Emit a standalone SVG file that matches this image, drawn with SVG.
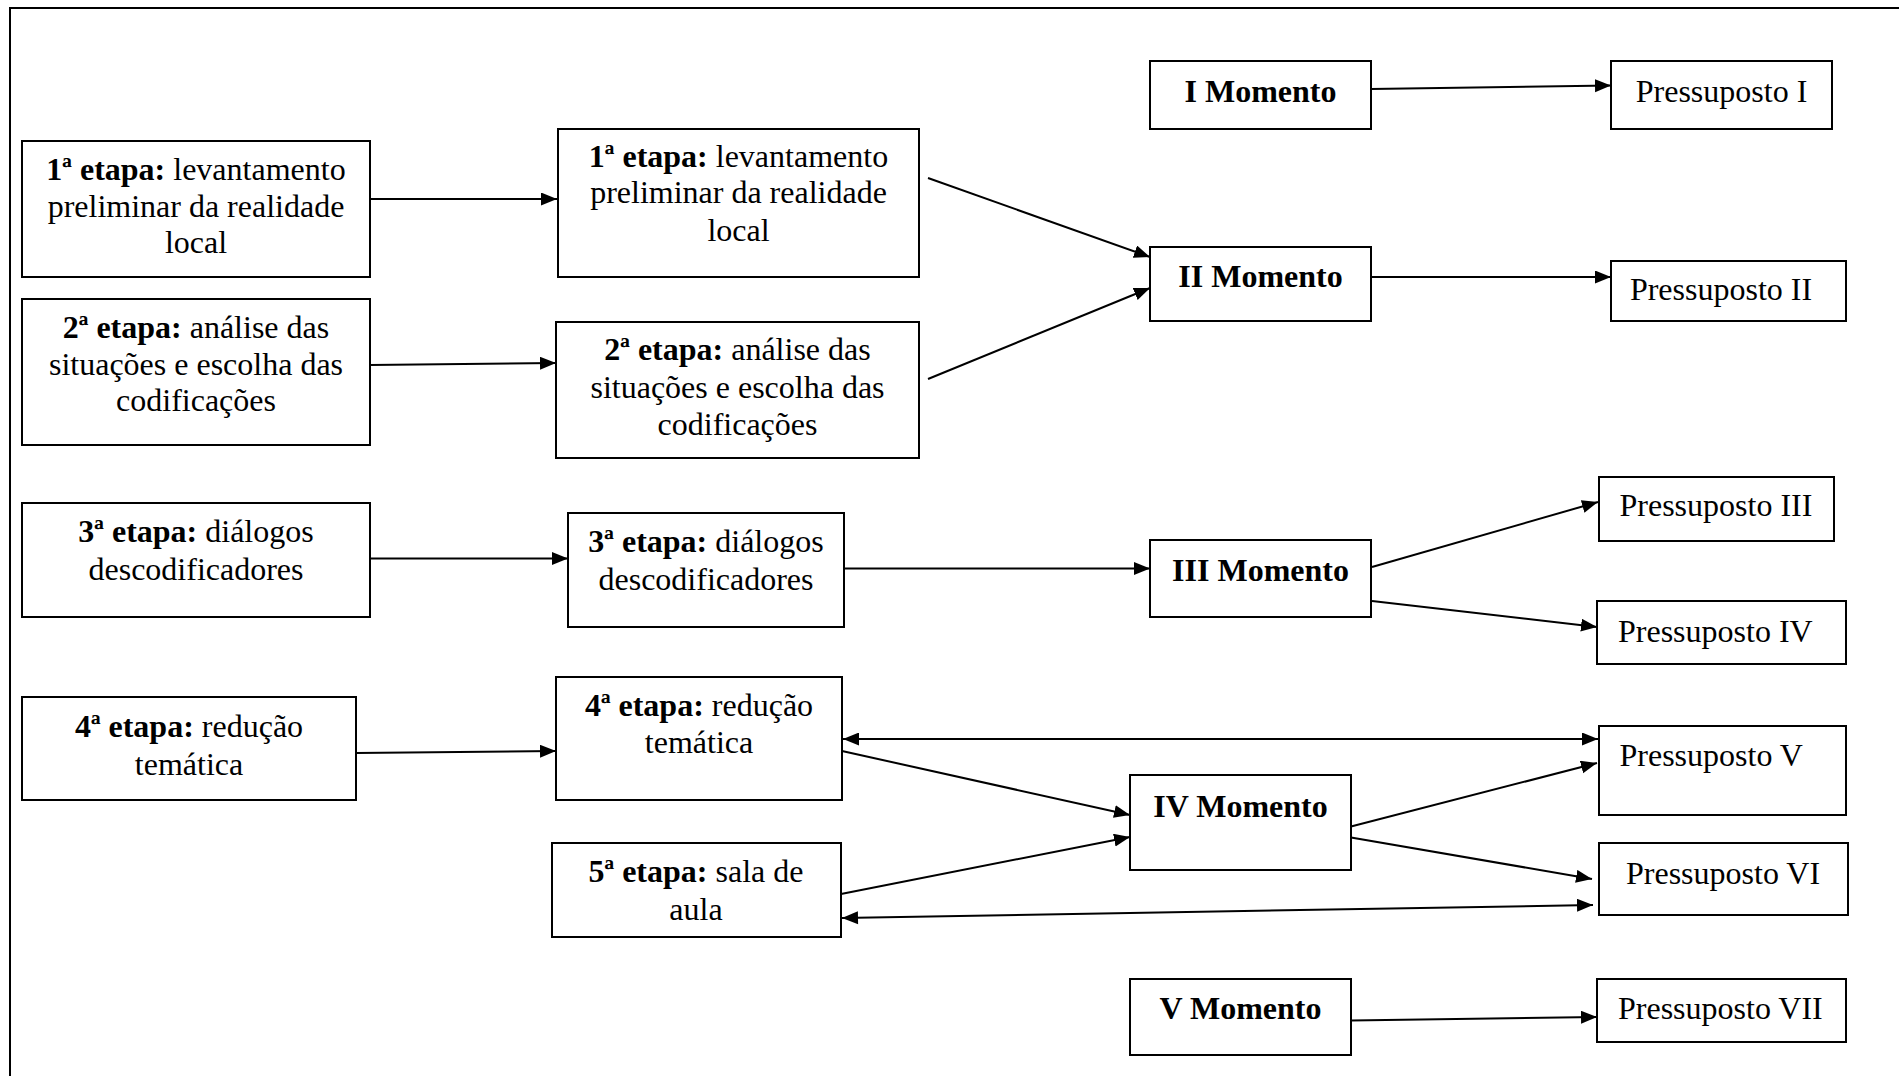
<svg xmlns="http://www.w3.org/2000/svg" width="1899" height="1076" viewBox="0 0 1899 1076">
<style>
  .box { fill: #fff; stroke: #000; stroke-width: 2; }
  text { font-family: "Liberation Serif", "Times New Roman", serif; font-size: 32px; fill: #000; text-anchor: middle; }
  .ls { text-anchor: start; }
  .b { font-weight: bold; }
  .c { fill: none; stroke: #000; stroke-width: 2; }
</style>
<defs>
  <marker id="ah" markerUnits="userSpaceOnUse" markerWidth="17" markerHeight="14" refX="16" refY="6.5" orient="auto">
    <path d="M0,0 L16,6.5 L0,13 z" fill="#000"/>
  </marker>
  <marker id="as" markerUnits="userSpaceOnUse" markerWidth="17" markerHeight="14" refX="0" refY="6.5" orient="auto">
    <path d="M16,0 L0,6.5 L16,13 z" fill="#000"/>
  </marker>
</defs>
<rect x="10" y="8" width="1920" height="1100" fill="#fff" stroke="#000" stroke-width="2"/>

<g id="connectors">
  <line class="c" x1="370" y1="199" x2="557" y2="199" marker-end="url(#ah)"/>
  <line class="c" x1="370" y1="365" x2="556" y2="363" marker-end="url(#ah)"/>
  <line class="c" x1="370" y1="558.5" x2="568" y2="558.5" marker-end="url(#ah)"/>
  <line class="c" x1="356" y1="753" x2="556" y2="751" marker-end="url(#ah)"/>
  <line class="c" x1="928" y1="178" x2="1150" y2="257" marker-end="url(#ah)"/>
  <line class="c" x1="928" y1="379" x2="1150" y2="288" marker-end="url(#ah)"/>
  <line class="c" x1="844" y1="568.5" x2="1150" y2="568.5" marker-end="url(#ah)"/>
  <line class="c" x1="842" y1="751" x2="1130" y2="815" marker-end="url(#ah)"/>
  <line class="c" x1="841" y1="894" x2="1130" y2="837" marker-end="url(#ah)"/>
  <line class="c" x1="843" y1="739" x2="1598" y2="739" marker-start="url(#as)" marker-end="url(#ah)"/>
  <line class="c" x1="842" y1="918" x2="1593" y2="905" marker-start="url(#as)" marker-end="url(#ah)"/>
  <line class="c" x1="1371" y1="89" x2="1611" y2="85.5" marker-end="url(#ah)"/>
  <line class="c" x1="1371" y1="277" x2="1611" y2="277" marker-end="url(#ah)"/>
  <line class="c" x1="1372" y1="567" x2="1598" y2="502" marker-end="url(#ah)"/>
  <line class="c" x1="1372" y1="601" x2="1597" y2="627" marker-end="url(#ah)"/>
  <line class="c" x1="1351" y1="826.5" x2="1597" y2="763" marker-end="url(#ah)"/>
  <line class="c" x1="1351" y1="837.5" x2="1592" y2="879" marker-end="url(#ah)"/>
  <line class="c" x1="1351" y1="1020.5" x2="1597" y2="1017" marker-end="url(#ah)"/>
</g>

<g id="a1">
  <rect class="box" x="22" y="141" width="348" height="136"/>
  <text x="196" y="180"><tspan class="b">1ª etapa:</tspan> levantamento</text>
  <text x="196" y="216.5">preliminar da realidade</text>
  <text x="196" y="253">local</text>
</g>
<g id="a2">
  <rect class="box" x="22" y="299" width="348" height="146"/>
  <text x="196" y="337.5"><tspan class="b">2ª etapa:</tspan> análise das</text>
  <text x="196" y="375">situações e escolha das</text>
  <text x="196" y="411">codificações</text>
</g>
<g id="a3">
  <rect class="box" x="22" y="503" width="348" height="114"/>
  <text x="196" y="541.5"><tspan class="b">3ª etapa:</tspan> diálogos</text>
  <text x="196" y="579.5">descodificadores</text>
</g>
<g id="a4">
  <rect class="box" x="22" y="697" width="334" height="103"/>
  <text x="189" y="736.5"><tspan class="b">4ª etapa:</tspan> redução</text>
  <text x="189" y="774.5">temática</text>
</g>

<g id="b1">
  <rect class="box" x="558" y="129" width="361" height="148"/>
  <text x="738.5" y="166.5"><tspan class="b">1ª etapa:</tspan> levantamento</text>
  <text x="738.5" y="203">preliminar da realidade</text>
  <text x="738.5" y="240.5">local</text>
</g>
<g id="b2">
  <rect class="box" x="556" y="322" width="363" height="136"/>
  <text x="737.5" y="360"><tspan class="b">2ª etapa:</tspan> análise das</text>
  <text x="737.5" y="397.5">situações e escolha das</text>
  <text x="737.5" y="435">codificações</text>
</g>
<g id="b3">
  <rect class="box" x="568" y="513" width="276" height="114"/>
  <text x="706" y="552"><tspan class="b">3ª etapa:</tspan> diálogos</text>
  <text x="706" y="590">descodificadores</text>
</g>
<g id="b4">
  <rect class="box" x="556" y="677" width="286" height="123"/>
  <text x="699" y="715.5"><tspan class="b">4ª etapa:</tspan> redução</text>
  <text x="699" y="753">temática</text>
</g>
<g id="b5">
  <rect class="box" x="552" y="843" width="289" height="94"/>
  <text x="696" y="882"><tspan class="b">5ª etapa:</tspan> sala de</text>
  <text x="696" y="920">aula</text>
</g>

<g id="m1">
  <rect class="box" x="1150" y="61" width="221" height="68"/>
  <text class="b" x="1260.5" y="101.5">I Momento</text>
</g>
<g id="m2">
  <rect class="box" x="1150" y="247" width="221" height="74"/>
  <text class="b" x="1260.5" y="286.5">II Momento</text>
</g>
<g id="m3">
  <rect class="box" x="1150" y="540" width="221" height="77"/>
  <text class="b" x="1260.5" y="580.5">III Momento</text>
</g>
<g id="m4">
  <rect class="box" x="1130" y="775" width="221" height="95"/>
  <text class="b" x="1240.5" y="816.5">IV Momento</text>
</g>
<g id="m5">
  <rect class="box" x="1130" y="979" width="221" height="76"/>
  <text class="b" x="1240.5" y="1019">V Momento</text>
</g>

<g id="p1">
  <rect class="box" x="1611" y="61" width="221" height="68"/>
  <text x="1721.5" y="101.5">Pressuposto I</text>
</g>
<g id="p2">
  <rect class="box" x="1611" y="261" width="235" height="60"/>
  <text x="1721" y="300">Pressuposto II</text>
</g>
<g id="p3">
  <rect class="box" x="1599" y="477" width="235" height="64"/>
  <text class="ls" x="1619.5" y="516">Pressuposto III</text>
</g>
<g id="p4">
  <rect class="box" x="1597" y="601" width="249" height="63"/>
  <text class="ls" x="1618" y="641.5">Pressuposto IV</text>
</g>
<g id="p5">
  <rect class="box" x="1599" y="726" width="247" height="89"/>
  <text class="ls" x="1619.5" y="766">Pressuposto V</text>
</g>
<g id="p6">
  <rect class="box" x="1599" y="843" width="249" height="72"/>
  <text class="ls" x="1626" y="883.5">Pressuposto VI</text>
</g>
<g id="p7">
  <rect class="box" x="1597" y="979" width="249" height="63"/>
  <text class="ls" x="1618" y="1019">Pressuposto VII</text>
</g>
</svg>
